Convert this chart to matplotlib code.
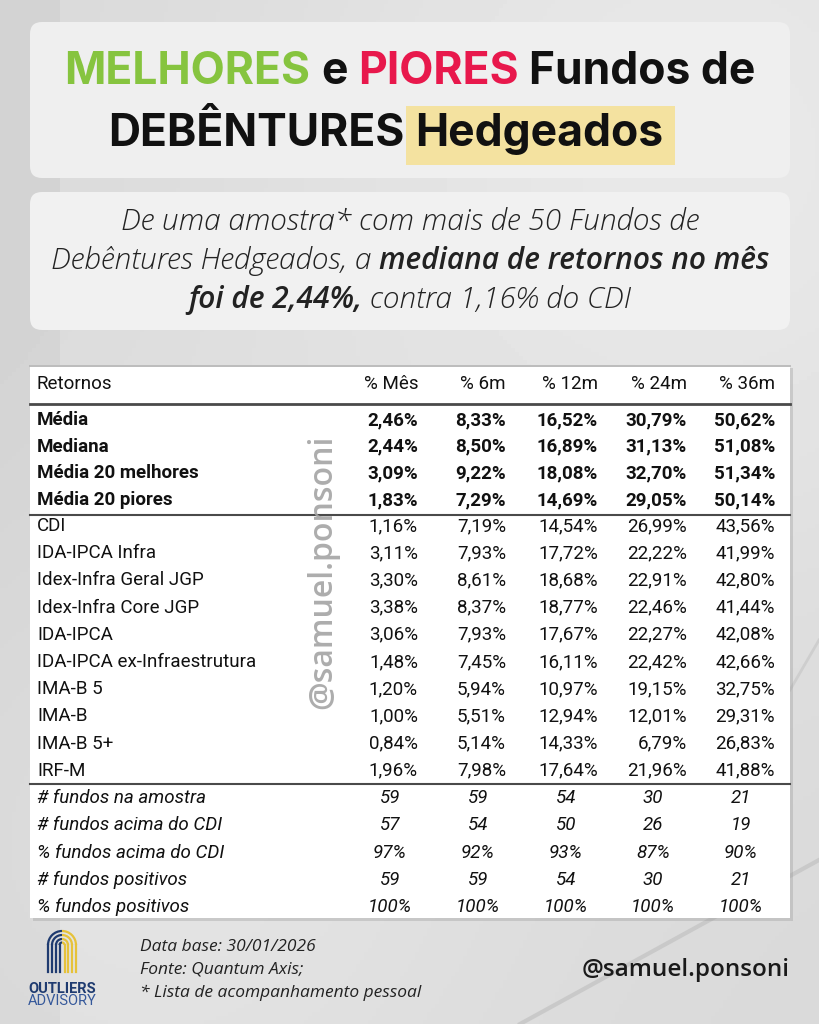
import matplotlib
matplotlib.use("Agg")
import matplotlib.pyplot as plt
from matplotlib.patches import FancyBboxPatch, Rectangle, Arc
import numpy as np

# ---- dados da tabela ----
colunas = ["% Mês", "% 6m", "% 12m", "% 24m", "% 36m"]

linhas_topo = ["Média", "Mediana", "Média 20 melhores", "Média 20 piores"]
valores_topo = [
    [2.46, 8.33, 16.52, 30.79, 50.62],
    [2.44, 8.50, 16.89, 31.13, 51.08],
    [3.09, 9.22, 18.08, 32.70, 51.34],
    [1.83, 7.29, 14.69, 29.05, 50.14],
]

indices = ["CDI", "IDA-IPCA Infra", "Idex-Infra Geral JGP", "Idex-Infra Core JGP",
           "IDA-IPCA", "IDA-IPCA ex-Infraestrutura", "IMA-B 5", "IMA-B", "IMA-B 5+", "IRF-M"]
valores_indices = [
    [1.16, 7.19, 14.54, 26.99, 43.56],
    [3.11, 7.93, 17.72, 22.22, 41.99],
    [3.30, 8.61, 18.68, 22.91, 42.80],
    [3.38, 8.37, 18.77, 22.46, 41.44],
    [3.06, 7.93, 17.67, 22.27, 42.08],
    [1.48, 7.45, 16.11, 22.42, 42.66],
    [1.20, 5.94, 10.97, 19.15, 32.75],
    [1.00, 5.51, 12.94, 12.01, 29.31],
    [0.84, 5.14, 14.33, 6.79, 26.83],
    [1.96, 7.98, 17.64, 21.96, 41.88],
]

contagens_labels = ["# fundos na amostra", "# fundos acima do CDI", "% fundos acima do CDI",
                    "# fundos positivos", "% fundos positivos"]
contagens = [
    [59, 59, 54, 30, 21],
    [57, 54, 50, 26, 19],
    [97, 92, 93, 87, 90],
    [59, 59, 54, 30, 21],
    [100, 100, 100, 100, 100],
]
contagens_pct = [False, False, True, False, True]

rodape = ["Data base: 30/01/2026", "Fonte: Quantum Axis;", "* Lista de acompanhamento pessoal"]

VERDE = "#86c43f"
VERMELHO = "#e8184c"
PRETO = "#111111"

TABELA_FONTE = ["Roboto", "DejaVu Sans"]
TITULO_FONTE = ["Inter", "Lato", "DejaVu Sans"]
SUB_FONTE = ["Open Sans", "Lato", "DejaVu Sans"]


def fmt_pct(v):
    return ("%.2f" % v).replace(".", ",") + "%"


fig = plt.figure(figsize=(8.19, 10.24), dpi=100)
ax = fig.add_axes([0, 0, 1, 1])
ax.set_xlim(0, 819)
ax.set_ylim(1024, 0)
ax.axis("off")

# fundo cinza com leve gradiente
yy, xx = np.mgrid[0:1024:4, 0:819:4]
fundo = 0.85 + 0.06 * np.exp(-((xx - 700) ** 2 + (yy - 150) ** 2) / 2.0e5) \
    + 0.04 * np.exp(-((xx - 150) ** 2 + (yy - 850) ** 2) / 1.5e5) - 0.03 * (xx < 60)
ax.imshow(np.clip(fundo, 0, 1), cmap="gray", vmin=0, vmax=1, extent=(0, 819, 1024, 0),
          aspect="auto", zorder=0)
# linhas de grafico ao fundo (decoracao)
ax.plot([520, 819], [1024, 860], color="#bdbdbd", lw=3, alpha=0.6, zorder=0.5)
ax.plot([790, 819], [690, 640], color="#c4c4c4", lw=2, alpha=0.6, zorder=0.5)

renderer = fig.canvas.get_renderer()


def largura(t):
    return t.get_window_extent(renderer).width


def linha_mista(partes, xc, y, **kw):
    """partes: lista de (texto, props); espaco simples entre as partes"""
    textos = []
    for s, props in partes:
        p = dict(kw)
        p.update(props)
        textos.append(ax.text(0, y, s, ha="left", va="center", zorder=5, **p))
    a = ax.text(0, y, "a a", **kw)
    b = ax.text(0, y, "aa", **kw)
    esp = largura(a) - largura(b)
    a.remove()
    b.remove()
    ws = [largura(t) for t in textos]
    total = sum(ws) + esp * (len(ws) - 1)
    x = xc - total / 2
    for t, w in zip(textos, ws):
        t.set_x(x)
        x += w + esp
    return textos


# ---- caixa do titulo ----
ax.add_patch(FancyBboxPatch((30, 22), 760, 156, boxstyle="round,pad=0,rounding_size=12",
                            fc="#efefef", ec="none", zorder=2))
kt = dict(fontsize=32, fontweight="bold", family=TITULO_FONTE)
linha_mista([("MELHORES", dict(color=VERDE)), ("e", dict(color=PRETO)),
             ("PIORES", dict(color=VERMELHO)), ("Fundos de", dict(color=PRETO))], 410, 72, **kt)
t2 = linha_mista([("DEBÊNTURES", dict(color=PRETO)), ("Hedgeados", dict(color=PRETO))],
                 386, 134, **kt)
bb = t2[1].get_window_extent(renderer)
ax.add_patch(Rectangle((bb.x0 - 9, 106), bb.width + 20, 59, fc="#f4e2a0", ec="none", zorder=3))

# ---- caixa do subtitulo ----
ax.add_patch(FancyBboxPatch((30, 192), 760, 138, boxstyle="round,pad=0,rounding_size=12",
                            fc="#f1f1f1", ec="none", zorder=2))
ks = dict(fontsize=21.5, style="italic", family=SUB_FONTE, color="#222222")
linha_mista([("De uma amostra* com mais de 50 Fundos de", dict(fontweight="light"))], 410, 222, **ks)
linha_mista([("Debêntures Hedgeados, a", dict(fontweight="light")),
             ("mediana de retornos no mês", dict(fontweight="semibold"))], 410, 261, **ks)
linha_mista([("foi de 2,44%,", dict(fontweight="semibold")),
             ("contra 1,16% do CDI", dict(fontweight="light"))], 410, 300, **ks)

# ---- tabela ----
ax.add_patch(Rectangle((33, 368), 760, 553, fc="#9a9a9a", ec="none", alpha=0.35, zorder=2))
ax.add_patch(Rectangle((30, 365), 760, 553, fc="white", ec="none", zorder=3))
ax.plot([30, 790], [366, 366], color="#b0b0b0", lw=1.2, zorder=4)

x_dir = [418, 506, 598, 687, 775]
x_centro = [390, 478, 566, 653, 741]
x_rot = 37
kb = dict(family=TABELA_FONTE, fontsize=13.5, color=PRETO, zorder=6)

ax.text(x_rot, 384, "Retornos", ha="left", va="center", **kb)
for c, x in zip(colunas, x_dir):
    ax.text(x, 384, c, ha="right", va="center", **kb)
ax.plot([30, 790], [404, 404], color="#4a4a4a", lw=2, zorder=4)

passo = 26.7
for i, (rot, vals) in enumerate(zip(linhas_topo, valores_topo)):
    y = 420 + i * passo
    ax.text(x_rot, y, rot, ha="left", va="center", fontweight="bold", **kb)
    for v, x in zip(vals, x_dir):
        ax.text(x, y, fmt_pct(v), ha="right", va="center", fontweight="bold", **kb)
ax.plot([30, 790], [515, 515], color="#4a4a4a", lw=1.5, zorder=4)

passo = 27.2
for i, (rot, vals) in enumerate(zip(indices, valores_indices)):
    y = 526 + i * passo
    ax.text(x_rot, y, rot, ha="left", va="center", **kb)
    for v, x in zip(vals, x_dir):
        ax.text(x, y, fmt_pct(v), ha="right", va="center", **kb)
ax.plot([30, 790], [784, 784], color="#4a4a4a", lw=1.5, zorder=4)

passo = 27.25
for i, (rot, vals, pct) in enumerate(zip(contagens_labels, contagens, contagens_pct)):
    y = 798 + i * passo
    ax.text(x_rot, y, rot, ha="left", va="center", style="italic", **kb)
    for v, x in zip(vals, x_centro):
        s = "%d%%" % v if pct else "%d" % v
        ax.text(x, y, s, ha="center", va="center", style="italic", **kb)

# marca d'agua vertical
ax.text(323, 572, "@samuel.ponsoni", rotation=90, ha="center", va="center", fontsize=23,
        fontweight="semibold", family=["Open Sans", "DejaVu Sans"], color="#a4a4a4", alpha=0.9,
        zorder=7)

# ---- rodape ----
for i, s in enumerate(rodape):
    ax.text(140, 947 + i * 23, s, ha="left", va="center", fontsize=12.5, style="italic",
            family=SUB_FONTE, color="#222222", zorder=5)
ax.text(790, 970, "@samuel.ponsoni", ha="right", va="center", fontsize=17.5, fontweight="semibold",
        family=["Open Sans", "DejaVu Sans"], color="#1a1a1a", zorder=5)

# logo simplificado (impressao digital)
AZUL = "#1f3b70"
AMARELO = "#e6c23a"
cx, cy = 62, 945
for r in [14, 10, 6, 2.5]:
    ax.add_patch(Arc((cx, cy), 2 * r, 2 * r, theta1=180, theta2=270, color=AZUL, lw=1.6, zorder=5))
    ax.add_patch(Arc((cx, cy), 2 * r, 2 * r, theta1=270, theta2=360, color=AMARELO, lw=1.6, zorder=5))
    ax.plot([cx - r, cx - r], [cy, 972], color=AZUL, lw=1.6, zorder=5)
    ax.plot([cx + r, cx + r], [cy, 972], color=AMARELO, lw=1.6, zorder=5)
ax.text(62, 989, "OUTLIERS", ha="center", va="center", fontsize=10.5, fontweight="bold",
        family=TABELA_FONTE, color=AZUL, zorder=5)
ax.text(62, 1001, "ADVISORY", ha="center", va="center", fontsize=10.5,
        family=TABELA_FONTE, color="#35589a", zorder=5)

fig.savefig("out.png", dpi=100)
